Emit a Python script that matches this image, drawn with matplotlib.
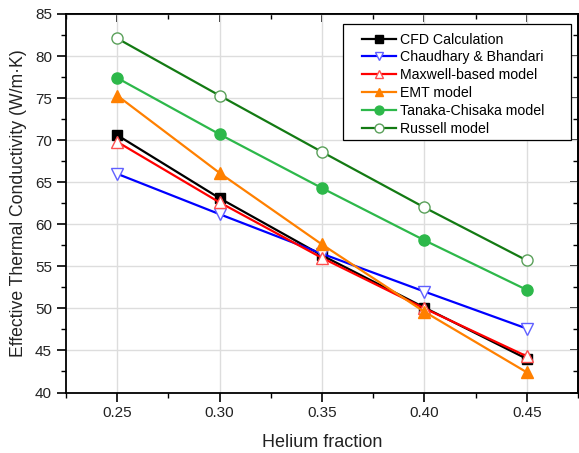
import matplotlib
matplotlib.use("Agg")
import matplotlib.pyplot as plt
from matplotlib.ticker import MultipleLocator, NullFormatter
from matplotlib.patches import Rectangle

plt.rcParams['font.family'] = ['Liberation Sans', 'DejaVu Sans']

helium = [0.25, 0.30, 0.35, 0.40, 0.45]
cfd = [70.6, 63.1, 56.3, 50.1, 44.0]
chaudhary = [66.0, 61.2, 56.5, 52.0, 47.6]
maxwell = [69.8, 62.6, 56.0, 50.0, 44.3]
emt = [75.3, 66.1, 57.6, 49.6, 42.4]
tanaka = [77.4, 70.7, 64.3, 58.1, 52.2]
russell = [82.1, 75.3, 68.6, 62.0, 55.7]

labels = ["CFD Calculation", "Chaudhary & Bhandari", "Maxwell-based model",
          "EMT model", "Tanaka-Chisaka model", "Russell model"]
xtick_labels = ["0.25", "0.30", "0.35", "0.40", "0.45"]

W, H = 579, 453
fig = plt.figure(figsize=(W / 100, H / 100), dpi=100)
ax = fig.add_axes([66 / W, 1 - 392.5 / H, (578 - 66) / W, (392.5 - 14) / H])

ms = 7
ax.plot(helium, cfd, color='black', lw=1.6, marker='s', ms=ms, mfc='black', mec='black', label=labels[0])
ax.plot(helium, chaudhary, color='#0000ff', lw=1.6, marker='v', ms=ms + 1, mfc='white', mec='#6060ff', label=labels[1])
ax.plot(helium, maxwell, color='#ff0000', lw=1.6, marker='^', ms=ms + 1, mfc='white', mec='#ff5050', label=labels[2])
ax.plot(helium, emt, color='#ff8000', lw=1.6, marker='^', ms=ms + 1, mfc='#ff8000', mec='#ff8000', label=labels[3])
ax.plot(helium, tanaka, color='#2db84a', lw=1.6, marker='o', ms=ms + 1, mfc='#2db84a', mec='#2db84a', label=labels[4])
ax.plot(helium, russell, color='#137a13', lw=1.6, marker='o', ms=ms + 1, mfc='white', mec='#5aa05a', label=labels[5])

ax.set_xlim(0.225, 0.475)
ax.set_ylim(40, 85)
ax.set_xticks(helium)
ax.set_xticklabels(xtick_labels)
ax.xaxis.set_minor_locator(MultipleLocator(0.025))
ax.yaxis.set_major_locator(MultipleLocator(5))
ax.yaxis.set_minor_locator(MultipleLocator(2.5))

ax.grid(True, which='major', color='#dddddd', lw=1.0)
ax.set_axisbelow(True)

ax.tick_params(axis='both', which='major', labelsize=11, length=6.5, width=1.2,
               colors='black', labelcolor='#222222', direction='out')
ax.tick_params(axis='both', which='minor', length=3.5, width=1.0, direction='out')
for s in ax.spines.values():
    s.set_linewidth(1.3)

# inward ticks on top and right
secx = ax.secondary_xaxis('top')
secx.set_xticks(helium)
secx.xaxis.set_minor_locator(MultipleLocator(0.025))
secx.xaxis.set_major_formatter(NullFormatter())
secx.tick_params(which='major', direction='in', length=6, width=1.2)
secx.tick_params(which='minor', direction='in', length=3.5, width=1.0)
secx.spines['top'].set_linewidth(1.3)

secy = ax.secondary_yaxis('right')
secy.yaxis.set_major_locator(MultipleLocator(5))
secy.yaxis.set_minor_locator(MultipleLocator(2.5))
secy.yaxis.set_major_formatter(NullFormatter())
secy.tick_params(which='major', direction='in', length=6, width=1.2)
secy.tick_params(which='minor', direction='in', length=3.5, width=1.0)
secy.spines['right'].set_linewidth(1.3)

ax.set_xlabel("Helium fraction", fontsize=13, labelpad=10, color='#222222')
ax.set_ylabel("Effective Thermal Conductivity (W/m·K)", fontsize=12.7, labelpad=6, color='#222222')

# legend frame drawn separately
frame = Rectangle((343 / W, 1 - 140 / H), (571 - 343) / W, (140 - 24) / H,
                  transform=fig.transFigure, facecolor='white', edgecolor='black',
                  lw=0.9, zorder=5)
fig.patches.append(frame)

leg = fig.legend(*ax.get_legend_handles_labels(), loc='upper left',
                 bbox_to_anchor=(362 / W, 1 - 32.5 / H), bbox_transform=fig.transFigure,
                 fontsize=10.2, frameon=False, handlelength=2.4, numpoints=1, markerscale=0.8,
                 labelspacing=0.27, borderpad=0, borderaxespad=0, handletextpad=0.3)
leg.set_zorder(6)

fig.savefig("out.png", dpi=100)
